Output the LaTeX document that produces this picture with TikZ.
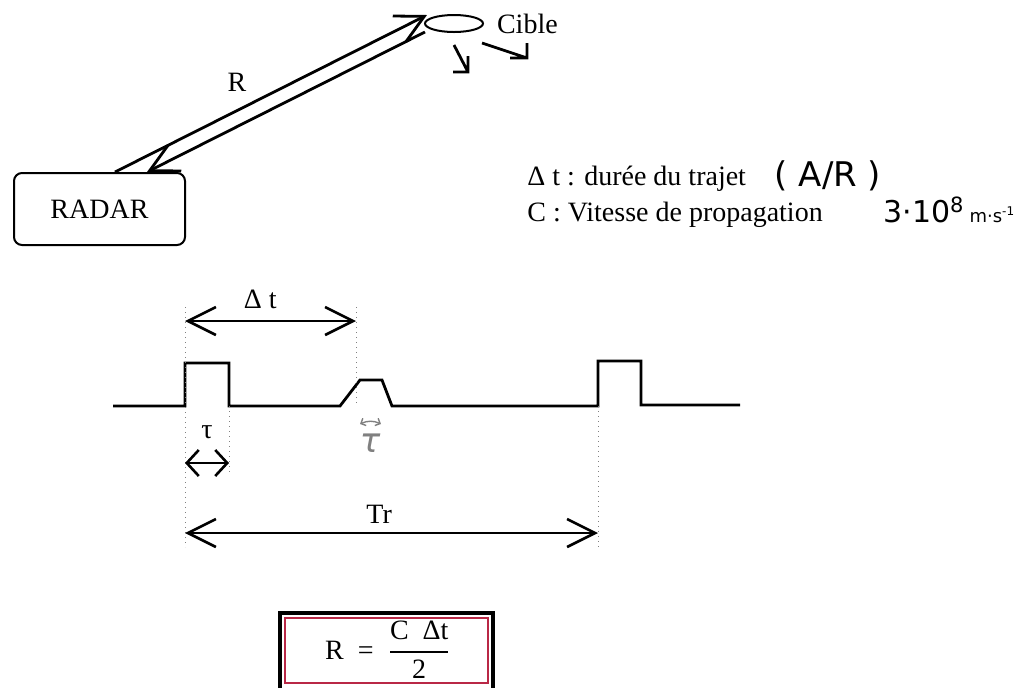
\documentclass[tikz,border=0pt]{standalone}
\usepackage{amsmath}
\usepackage{fontspec}
\setmainfont{Liberation Serif}
\newfontfamily\handfont{DejaVu Sans}
\usepackage{tikz}
\usetikzlibrary{positioning, arrows.meta, calc, shapes.geometric}
\definecolor{rougecadre}{RGB}{185,40,70}

\begin{document}
\begin{tikzpicture}[x=0.5pt, y=-0.5pt, font=\fontsize{14}{17}\selectfont,
  trait/.style={line width=1.4pt, line join=miter},
  barbe/.style={-{Straight Barb[length=14pt,width=14.5pt]}},
  cote/.style={line width=1.3pt, {Straight Barb[length=14pt,width=14pt]}-{Straight Barb[length=14pt,width=14pt]}},
  petitecote/.style={line width=1.3pt, {Straight Barb[length=6pt,width=13pt]}-{Straight Barb[length=6pt,width=13pt]}},
  repere/.style={dotted, gray, line width=0.5pt}]
  \useasboundingbox (0,0) rectangle (1019,687);
  % radar et cible
  \node[draw, line width=1pt, rounded corners=4pt, minimum width=85.5pt, minimum height=36pt] (radar) at (99.5,209) {RADAR};
  \node[draw, line width=1pt, ellipse, inner sep=0pt, minimum width=29pt, minimum height=8.5pt] (cible) at (454,23.5) {};
  \node[right=3pt of cible] (nomcible) {Cible};
  \draw[trait, barbe] ([xshift=7.75pt]radar.north) -- ([shift={(-27,-8.5)}]cible.center);
  \draw[trait, barbe] ([shift={(-29,8.5)}]cible.center) -- ([xshift=23.75pt]radar.north);
  \node (r) at (237,82) {R};
  \draw[trait] (454,45) -- (468,72) (453,72) -- (468,72) -- (468,56);
  \draw[trait] (482,43) -- (527,58) (510,58) -- (527,58) -- (527,43);
  % legende
  \node[anchor=base west, inner sep=0pt] (duree) at (527,185) {Δ t : durée du trajet};
  \node[anchor=base west, inner sep=0pt] (vitesse) at (527,221) {C : Vitesse de propagation};
  \node[font=\handfont\fontsize{17}{20}\selectfont] (ar) at (828,176) {( A/R )};
  \node[anchor=west, inner sep=0pt, font=\handfont\fontsize{15}{18}\selectfont] (valc) at (883,210) {3·10\textsuperscript{8}\,{\fontsize{9}{10}\selectfont m·s\textsuperscript{-1}}};
  % impulsions
  \draw[trait] (113,406) -- (185,406) coordinate (e1) -- (185,363) -- (229,363) -- (229,406) coordinate (e2)
    -- (340,406) -- (360,380) -- (382,380) -- (392,406) -- (598,406) coordinate (e3)
    -- (598,361) -- (641,361) -- (641,405) -- (740,405);
  \coordinate (echo) at (356,406);
  \draw[repere] (185,307) -- (e1) -- (185,547);
  \draw[repere] (e2) -- (229,472);
  \draw[repere] (356,307) -- (echo);
  \draw[repere] (e3) -- (598,547);
  \coordinate (dta) at (185,321); \coordinate (dtb) at (356,321);
  \coordinate (taua) at (185,463); \coordinate (taub) at (229,463);
  \coordinate (tra) at (185,533); \coordinate (trb) at (598,533);
  \draw[cote] (dta) -- node[pos=0.44, above=2pt] (ldt) {Δ t} (dtb);
  \draw[petitecote] (taua) -- node[above=8pt] (ltau) {τ} (taub);
  \draw[cote] (tra) -- node[pos=0.47, above=1pt] (ltr) {Tr} (trb);
  \draw[gray, line width=0.7pt, {Straight Barb[length=2pt,width=4pt]}-{Straight Barb[length=2pt,width=4pt]}] (360,424) to[bend left=25] (381,424);
  \node[text=gray, font=\handfont\itshape\fontsize{17}{20}\selectfont] (tauecho) at (370,443) {τ};
  % formule
  \draw[line width=2pt] (280,613) rectangle (493,690);
  \draw[rougecadre, line width=0.9pt] (285,618) rectangle (488,683);
  \node (formule) at (388,650) {R\enspace=\enspace$\dfrac{\text{C\enspace Δt}}{\text{2}}$};
\end{tikzpicture}
\end{document}
